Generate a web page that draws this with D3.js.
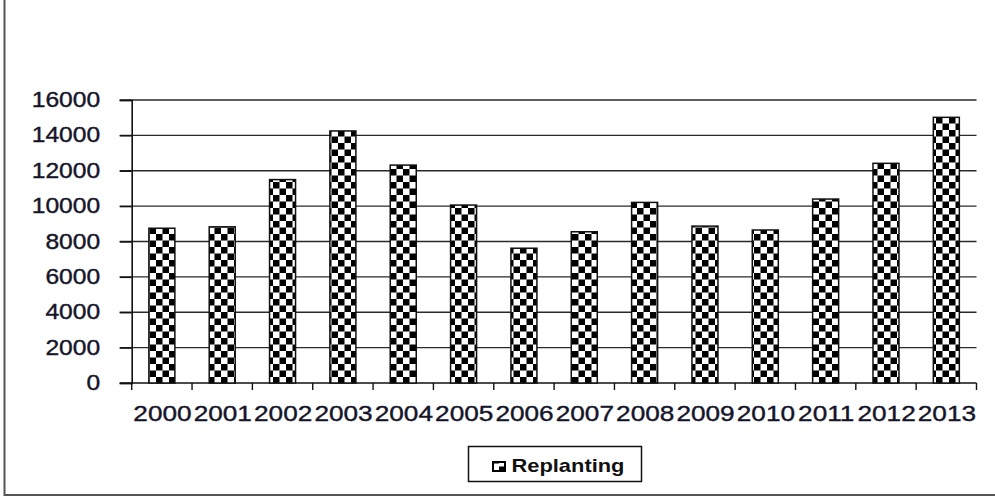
<!doctype html>
<html>
<head>
<meta charset="utf-8">
<title>Replanting</title>
<script src="https://cdn.jsdelivr.net/npm/d3@7"></script>
<style>
body { margin: 0; background: #fff; }
.tick text { font-family: 'Liberation Sans', Arial, sans-serif; fill: #15152a; }
</style>
</head>
<body>
<div id="chart"></div>
<script>
// data
var years = ['2000','2001','2002','2003','2004','2005','2006','2007','2008','2009','2010','2011','2012','2013'];
var replanting = [8750, 8830, 11500, 14250, 12320, 10060, 7620, 8550, 10210, 8870, 8650, 10400, 12420, 15020];
var yTicks = [0, 2000, 4000, 6000, 8000, 10000, 12000, 14000, 16000];
var seriesName = 'Replanting';

var W = 995, H = 497;
var plot = {left: 131.7, right: 976.5, top: 100, bottom: 383};

var svg = d3.select('#chart').append('svg')
  .attr('width', W)
  .attr('height', H);

// checker pattern like the excel fill
var defs = svg.append('defs');
var cell = 6.5;
var pat = defs.append('pattern')
  .attr('id', 'checker')
  .attr('patternUnits', 'userSpaceOnUse')
  .attr('width', cell * 2)
  .attr('height', cell * 2);
pat.append('rect').attr('width', cell * 2).attr('height', cell * 2).attr('fill', '#fff');
pat.append('rect').attr('width', cell).attr('height', cell).attr('fill', '#000');
pat.append('rect').attr('x', cell).attr('y', cell).attr('width', cell).attr('height', cell).attr('fill', '#000');

var pat2 = defs.append('pattern')
  .attr('id', 'checkerSmall')
  .attr('patternUnits', 'userSpaceOnUse')
  .attr('x', 493).attr('y', 462)
  .attr('width', 12)
  .attr('height', 9);
pat2.append('rect').attr('width', 12).attr('height', 9).attr('fill', '#fff');
pat2.append('rect').attr('x', 6).attr('y', 4.5).attr('width', 6).attr('height', 4.5).attr('fill', '#000');
pat2.append('rect').attr('x', 0).attr('y', 0).attr('width', 6).attr('height', 1.5).attr('fill', '#000');

// outer frame (only left and bottom edges visible)
svg.append('path')
  .attr('d', 'M4.5,0 V495 H995')
  .attr('fill', 'none')
  .attr('stroke', '#555')
  .attr('stroke-width', 2);

var x = d3.scaleBand()
  .domain(years)
  .range([plot.left, plot.right])
  .padding(0);

var y = d3.scaleLinear()
  .domain([0, 16000])
  .range([plot.bottom, plot.top]);

// gridlines
svg.append('g')
  .selectAll('line')
  .data(yTicks.slice(1))
  .join('line')
  .attr('x1', plot.left - 12)
  .attr('x2', plot.right)
  .attr('y1', function(d) { return y(d); })
  .attr('y2', function(d) { return y(d); })
  .attr('stroke', '#2a2a2a')
  .attr('stroke-width', 1.4);

// y axis
var yAxis = svg.append('g')
  .attr('transform', 'translate(' + plot.left + ',0)')
  .call(d3.axisLeft(y).tickValues(yTicks).tickSize(12).tickPadding(0).tickFormat(d3.format('d')));
yAxis.select('.domain').attr('stroke', '#111').attr('stroke-width', 1.6);
yAxis.selectAll('.tick line').attr('stroke', '#111').attr('stroke-width', 1.4);
yAxis.selectAll('.tick text')
  .attr('x', 0)
  .attr('dy', '0.3em')
  .attr('font-size', 22)
  .attr('stroke', '#15152a')
  .attr('stroke-width', 0.4)
  .attr('transform', 'translate(-31.5,0) scale(1.12,1)');

// x axis, ticks on the band edges
var xAxis = svg.append('g')
  .attr('transform', 'translate(0,' + plot.bottom + ')');
xAxis.append('line')
  .attr('x1', plot.left - 12).attr('x2', plot.right)
  .attr('stroke', '#111').attr('stroke-width', 1.6);
xAxis.selectAll('line.edge')
  .data(years.concat(['end']))
  .join('line')
  .attr('class', 'edge')
  .attr('x1', function(d) { return d === 'end' ? plot.right : x(d); })
  .attr('x2', function(d) { return d === 'end' ? plot.right : x(d); })
  .attr('y1', 0).attr('y2', 7)
  .attr('stroke', '#111').attr('stroke-width', 1.4);
xAxis.selectAll('text')
  .data(years)
  .join('text')
  .attr('transform', function(d) { return 'translate(' + (x(d) + x.bandwidth() / 2 + 0.6) + ',38) scale(1.19,1)'; })
  .attr('text-anchor', 'middle')
  .attr('font-family', "'Liberation Sans', Arial, sans-serif")
  .attr('font-size', 22)
  .attr('fill', '#15152a')
  .attr('stroke', '#15152a')
  .attr('stroke-width', 0.4)
  .text(function(d) { return d; });

// bars
var barW = 26;
svg.append('g')
  .selectAll('rect')
  .data(replanting)
  .join('rect')
  .attr('x', function(d, i) { return x(years[i]) + x.bandwidth() / 2 - barW / 2; })
  .attr('y', function(d) { return y(d); })
  .attr('width', barW)
  .attr('height', function(d) { return y(0) - y(d); })
  .attr('fill', 'url(#checker)')
  .attr('stroke', '#111')
  .attr('stroke-width', 1.5);

// legend
var lg = svg.append('g');
lg.append('rect')
  .attr('x', 468.5).attr('y', 446.5)
  .attr('width', 173).attr('height', 35)
  .attr('fill', '#fff')
  .attr('stroke', '#111')
  .attr('stroke-width', 1.5);
lg.append('rect')
  .attr('x', 493).attr('y', 462)
  .attr('width', 12).attr('height', 9)
  .attr('fill', 'url(#checkerSmall)')
  .attr('stroke', '#000')
  .attr('stroke-width', 2);
lg.append('text')
  .attr('transform', 'translate(511.5,471.5) scale(1.25,1)')
  .attr('font-family', "'Liberation Sans', Arial, sans-serif")
  .attr('font-weight', 'bold')
  .attr('font-size', 17.5)
  .attr('fill', '#111')
  .text(seriesName);
</script>
</body>
</html>
